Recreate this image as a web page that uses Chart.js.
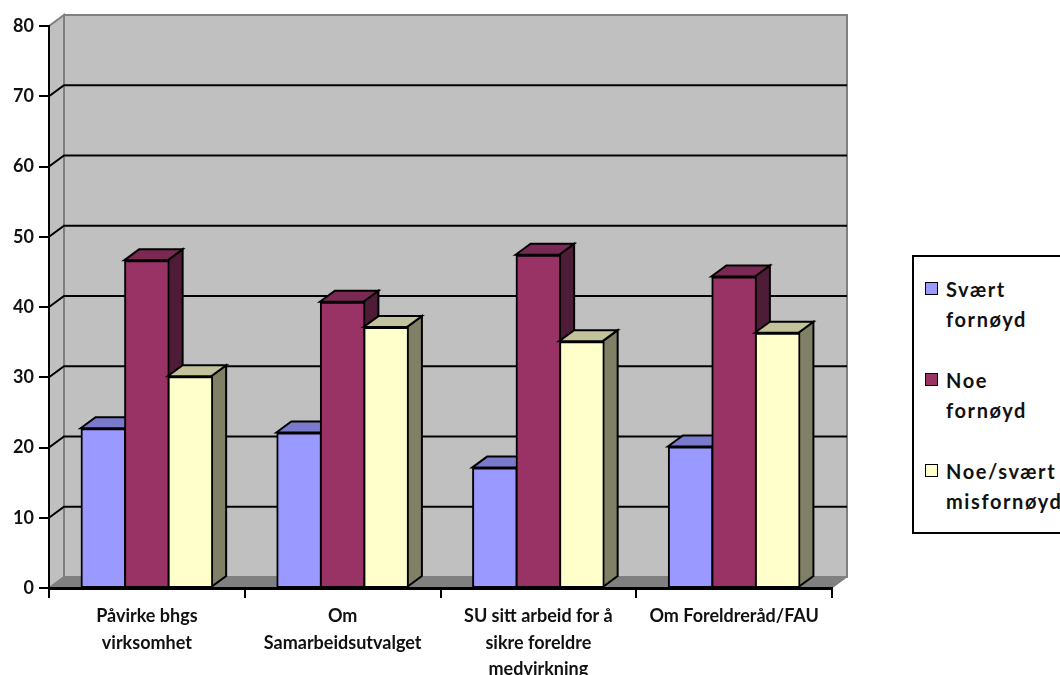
<!DOCTYPE html>
<html>
<head>
<meta charset="utf-8">
<script src="https://cdn.jsdelivr.net/npm/chart.js@4"></script>
<style>
  html, body { margin: 0; padding: 0; background: #fff; overflow: hidden; }
  #wrap { position: relative; width: 1060px; height: 675px; overflow: hidden; }
  #legend {
    position: absolute; left: 912px; top: 255px; width: 170px; height: 275px;
    border: 2px solid #000; box-sizing: content-box; background: #fff;
    font: bold 20px Lato, sans-serif; color: #111; letter-spacing: 1.6px;
  }
  .item { position: absolute; left: 32px; line-height: 30px; white-space: nowrap; }
  .swatch { position: absolute; left: -21px; top: 8px; width: 11px; height: 11px; border: 1.5px solid #000; }
</style>
</head>
<body>
<div id="wrap">
  <canvas id="chart" width="1060" height="675"></canvas>
  <div id="legend"></div>
</div>
<script>
const categories = [
  ['Påvirke bhgs', 'virksomhet'],
  ['Om', 'Samarbeidsutvalget'],
  ['SU sitt arbeid for å', 'sikre foreldre', 'medvirkning'],
  ['Om Foreldreråd/FAU']
];
const svaertFornoyd = [22.6, 22, 17, 20];
const noeFornoyd = [46.5, 40.6, 47.3, 44.2];
const misfornoyd = [30, 37, 35, 36.2];
const legendLabels = [['Svært', 'fornøyd'], ['Noe', 'fornøyd'], ['Noe/svært', 'misfornøyd']];

const front = ['#9999ff', '#993366', '#ffffcc'];
const topFace = ['#7a7acc', '#7a2952', '#c2c29b'];
const sideFace = ['#5c5c99', '#4f1c38', '#808066'];

// offset of the back wall from the front plane
const dx = 15, dy = -11;

function poly(ctx, pts, fill, stroke, width) {
  ctx.beginPath();
  pts.forEach((p, i) => i ? ctx.lineTo(p[0], p[1]) : ctx.moveTo(p[0], p[1]));
  ctx.closePath();
  ctx.fillStyle = fill;
  ctx.fill();
  ctx.strokeStyle = stroke;
  ctx.lineWidth = width;
  ctx.lineJoin = 'miter';
  ctx.stroke();
}

// walls, floor and gridlines go under everything else
const walls = {
  id: 'walls',
  beforeDraw(chart) {
    const { ctx, chartArea: a, scales } = chart;
    ctx.save();
    poly(ctx, [[a.left, a.top], [a.left + dx, a.top + dy], [a.left + dx, a.bottom + dy], [a.left, a.bottom]], '#c0c0c0', '#808080', 2);
    poly(ctx, [[a.left + dx, a.top + dy], [a.right + dx, a.top + dy], [a.right + dx, a.bottom + dy], [a.left + dx, a.bottom + dy]], '#c0c0c0', '#808080', 2);
    poly(ctx, [[a.left, a.bottom], [a.left + dx, a.bottom + dy], [a.right + dx, a.bottom + dy], [a.right, a.bottom]], '#808080', '#808080', 1);
    ctx.strokeStyle = '#000';
    ctx.lineWidth = 2;
    scales.y.ticks.forEach(t => {
      if (t.value === 0 || t.value === scales.y.max) return;
      const y = scales.y.getPixelForValue(t.value);
      ctx.beginPath();
      ctx.moveTo(a.left, y);
      ctx.lineTo(a.left + dx, y + dy);
      ctx.lineTo(a.right + dx, y + dy);
      ctx.stroke();
    });
    ctx.restore();
  }
};

// the library paints last dataset first, the 3D look needs left to right,
// so draw the bar elements here: side and top, then the front
const bars3d = {
  id: 'bars3d',
  beforeDatasetsDraw(chart) {
    const ctx = chart.ctx;
    ctx.save();
    chart.data.datasets.forEach((ds, i) => {
      const bars = chart.getDatasetMeta(i).data;
      bars.forEach(bar => {
        const l = bar.x - bar.width / 2 - 1, r = bar.x + bar.width / 2 - 1;
        const top = bar.y - 1;
        poly(ctx, [[r, top], [r + dx, top + dy], [r + dx, bar.base + dy], [r, bar.base]], sideFace[i], '#000', 2);
        poly(ctx, [[l, top], [l + dx, top + dy], [r + dx, top + dy], [r, top]], topFace[i], '#000', 2);
      });
      bars.forEach(bar => bar.draw(ctx));
    });
    ctx.restore();
    return false;
  }
};

const series = [svaertFornoyd, noeFornoyd, misfornoyd];

new Chart(document.getElementById('chart'), {
  type: 'bar',
  data: {
    labels: categories,
    datasets: series.map((values, i) => ({
      label: legendLabels[i].join(' '),
      data: values,
      backgroundColor: front[i],
      borderColor: '#000',
      borderWidth: 2,
      borderSkipped: false,
      inflateAmount: 1
    }))
  },
  options: {
    responsive: false,
    animation: false,
    categoryPercentage: 0.667,
    barPercentage: 1,
    layout: { padding: { top: 26, right: 228, left: 0, bottom: 0 } },
    plugins: { legend: { display: false }, title: { display: false }, tooltip: { enabled: false } },
    scales: {
      x: {
        afterFit(s) { s.height = 87; },
        grid: { offset: true, drawOnChartArea: false, color: '#000', lineWidth: 2, tickLength: 10 },
        border: { color: '#000', width: 3 },
        ticks: {
          color: '#111', maxRotation: 0, autoSkip: false, padding: 5,
          font: { family: 'Lato', weight: 'bold', size: 18, lineHeight: '26.5px' }
        }
      },
      y: {
        min: 0,
        max: 80,
        afterFit(s) { s.width = 49; },
        grid: { drawOnChartArea: false, color: '#000', lineWidth: 2, tickLength: 10 },
        border: { color: '#000', width: 2 },
        ticks: {
          stepSize: 10, color: '#111', padding: 5,
          font: { family: 'Lato', weight: 'bold', size: 18 }
        }
      }
    }
  },
  plugins: [walls, bars3d]
});

// legend box, wrapped the way the original wraps it
const legend = document.getElementById('legend');
const legendTops = [17, 108, 199];
legendLabels.forEach((lines, i) => {
  const item = document.createElement('div');
  item.className = 'item';
  item.style.top = legendTops[i] + 'px';
  item.innerHTML = `<span class="swatch" style="background:${front[i]}"></span>${lines.join('<br>')}`;
  legend.appendChild(item);
});
</script>
</body>
</html>
